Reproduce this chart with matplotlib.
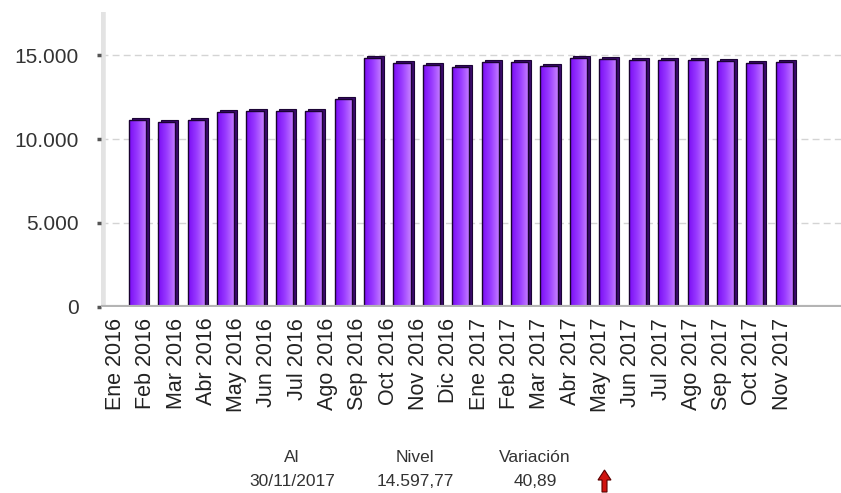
import numpy as np
import matplotlib
matplotlib.use("Agg")
import matplotlib.pyplot as plt
from matplotlib.colors import LinearSegmentedColormap
from matplotlib.transforms import ScaledTranslation

plt.rcParams['font.family'] = ['Liberation Sans', 'DejaVu Sans']

# data
months = ['Ene 2016', 'Feb 2016', 'Mar 2016', 'Abr 2016', 'May 2016', 'Jun 2016',
          'Jul 2016', 'Ago 2016', 'Sep 2016', 'Oct 2016', 'Nov 2016', 'Dic 2016',
          'Ene 2017', 'Feb 2017', 'Mar 2017', 'Abr 2017', 'May 2017', 'Jun 2017',
          'Jul 2017', 'Ago 2017', 'Sep 2017', 'Oct 2017', 'Nov 2017']
values = [11150, 11000, 11150, 11600, 11650, 11650, 11650, 12400, 14850, 14550,
          14400, 14300, 14600, 14620, 14380, 14850, 14780, 14730, 14700, 14700,
          14660, 14520, 14598]
yticks = [0, 5000, 10000, 15000]
ytick_labels = ['0', '5.000', '10.000', '15.000']
summary_heads = ['Al', 'Nivel', 'Variación']
summary_vals = ['30/11/2017', '14.597,77', '40,89']

fig = plt.figure(figsize=(8.41, 4.93), dpi=100)
ax = fig.add_axes([0.120, 0.378, 0.880, 0.598])

x = np.arange(len(values))
w = 0.58
grad = LinearSegmentedColormap.from_list('vio', ['#7a0cf5', '#9a3cff', '#c680ff'])

# 3d side / top of each bar, shifted a few pixels up-right
shift = ScaledTranslation(3 / 100, 2 / 100, fig.dpi_scale_trans)
back = ax.bar(x, values, width=w, color='#3b0a6c', edgecolor='#1c0436', lw=0.8, zorder=2)
for p in back:
    p.set_transform(ax.transData + shift)

front = ax.bar(x, values, width=w, color='none', edgecolor='#1a0330', lw=1.0, zorder=4)
g = np.linspace(0, 1, 64).reshape(1, -1)
for p, xi, v in zip(front, x, values):
    im = ax.imshow(g, extent=[xi - w / 2, xi + w / 2, 0, v], aspect='auto',
                   cmap=grad, zorder=3, interpolation='bilinear')
    im.set_clip_path(p)

ax.set_xlim(-1.24, 23.93)
ax.set_ylim(0, 17600)

for s in ax.spines.values():
    s.set_visible(False)
for yv in yticks[1:]:
    ax.axhline(yv, color='#d4d4d4', lw=1, ls=(0, (5, 3)), zorder=1)
ax.axvline(-1.17, color='#e3e3e3', lw=4, zorder=1)
ax.axhline(0, color='#b4b4b4', lw=3, zorder=5)

ax.set_yticks(yticks)
ax.set_yticklabels(ytick_labels, fontsize=15, color='#333333')
ax.tick_params(axis='y', length=3, width=2.5, color='#555555', pad=13)
ax.set_xticks(x)
ax.set_xticklabels(months, rotation=90, fontsize=15.5, color='#222222')
ax.tick_params(axis='x', length=0, pad=8)
# the labels sit a little left of the bars, drifting back under them to the right
n = len(months)
for i, t in enumerate(ax.get_xticklabels()):
    dx = -22 + 20 * i / (n - 1)
    t.set_transform(t.get_transform() + ScaledTranslation(dx / 100, 0, fig.dpi_scale_trans))

# summary block under the chart
cols = [292, 415, 535]
for cx, h, v in zip(cols, summary_heads, summary_vals):
    fig.text(cx / 841, 1 - 458 / 493, h, ha='center', va='center', fontsize=12.5, color='#333333')
    fig.text(cx / 841, 1 - 482 / 493, v, ha='center', va='center', fontsize=12.5, color='#333333')
pts = np.array([[598, 480], [604.5, 470], [611, 480], [607, 480], [607, 492],
                [602, 492], [602, 480]], dtype=float)
pts[:, 1] = 493 - pts[:, 1]
arrow = plt.Polygon(pts, closed=True, facecolor='#d0140f', edgecolor='#5a0000',
                    lw=0.8, transform=None)
fig.patches.append(arrow)

fig.savefig('out.png', dpi=100)
